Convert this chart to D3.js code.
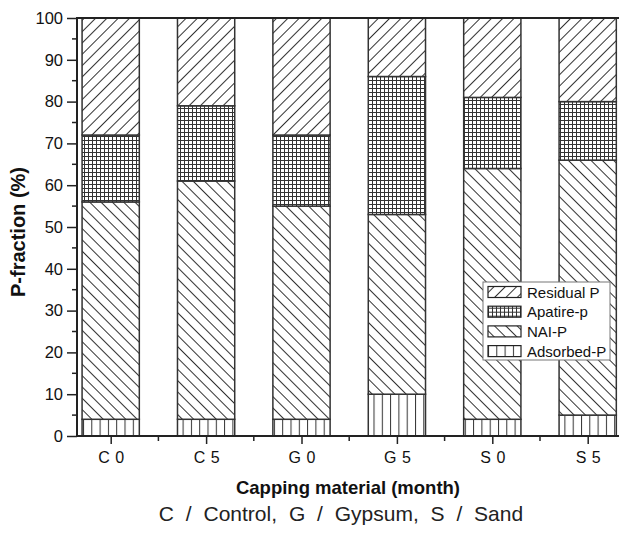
<!DOCTYPE html>
<html>
<head>
<meta charset="utf-8">
<script src="https://cdn.jsdelivr.net/npm/d3@7"></script>
<style>
  body { margin: 0; background: #fff; }
  svg text { font-family: "Liberation Sans", Arial, sans-serif; fill: #111; }
</style>
</head>
<body>
<div id="container"></div>
<script>
const categories = ["C 0", "C 5", "G 0", "G 5", "S 0", "S 5"];
const adsorbed = [4, 4, 4, 10, 4, 5];
const nai = [52, 57, 51, 43, 60, 61];
const apatite = [16, 18, 17, 33, 17, 14];
const residual = [28, 21, 28, 14, 19, 20];
const seriesNames = ["Adsorbed-P", "NAI-P", "Apatire-p", "Residual P"];
const yTicks = [0, 10, 20, 30, 40, 50, 60, 70, 80, 90, 100];

const width = 619, height = 538;
const plotLeft = 77, plotRight = 619, plotTop = 18, plotBottom = 436;

const svg = d3.select("#container")
  .append("svg")
  .attr("width", width)
  .attr("height", height);

// hatch patterns
const defs = svg.append("defs");
const hatch = (id, angle, gap) => {
  const p = defs.append("pattern")
    .attr("id", id)
    .attr("patternUnits", "userSpaceOnUse")
    .attr("width", gap).attr("height", gap)
    .attr("patternTransform", `rotate(${angle})`);
  p.append("rect").attr("width", gap).attr("height", gap).attr("fill", "#fff");
  p.append("line")
    .attr("x1", 0.5).attr("y1", 0).attr("x2", 0.5).attr("y2", gap)
    .attr("stroke", "#333").attr("stroke-width", 1);
};
hatch("p-adsorbed", 0, 8.3);
hatch("p-nai", -45, 8);
hatch("p-residual", 45, 8);

const grid = defs.append("pattern")
  .attr("id", "p-apatite")
  .attr("patternUnits", "userSpaceOnUse")
  .attr("width", 4).attr("height", 4);
grid.append("rect").attr("width", 4).attr("height", 4).attr("fill", "#fff");
grid.append("path")
  .attr("d", "M0.5,0V4M0,0.5H4")
  .attr("stroke", "#333").attr("stroke-width", 1);

const fills = ["url(#p-adsorbed)", "url(#p-nai)", "url(#p-apatite)", "url(#p-residual)"];

const rows = categories.map((c, i) => ({
  cat: c,
  "Adsorbed-P": adsorbed[i],
  "NAI-P": nai[i],
  "Apatire-p": apatite[i],
  "Residual P": residual[i]
}));
const stacked = d3.stack().keys(seriesNames)(rows);

const x = d3.scalePoint().domain(categories).range([110.7, 587.7]);
const barW = x.step() * 0.6;
const y = d3.scaleLinear().domain([0, 100]).range([plotBottom, plotTop]);

// bars
svg.append("g")
  .selectAll("g")
  .data(stacked)
  .enter()
  .append("g")
  .attr("fill", (d, i) => fills[i])
  .selectAll("rect")
  .data(d => d)
  .enter()
  .append("rect")
  .attr("x", d => x(d.data.cat) - barW / 2)
  .attr("y", d => y(d[1]))
  .attr("width", barW)
  .attr("height", d => y(d[0]) - y(d[1]))
  .attr("stroke", "#333")
  .attr("stroke-width", 1.5);

// y axis
const yAxis = d3.axisLeft(y).tickValues(yTicks).tickSize(10).tickPadding(4);
const gy = svg.append("g").attr("transform", `translate(${plotLeft},0)`).call(yAxis);
gy.select(".domain").remove();
gy.selectAll(".tick line").attr("stroke", "#222").attr("stroke-width", 1.5);
gy.selectAll(".tick text").style("font-size", "16.5px");
svg.append("g")
  .selectAll("line")
  .data(d3.range(5, 100, 10))
  .enter()
  .append("line")
  .attr("x1", plotLeft - 5).attr("x2", plotLeft)
  .attr("y1", d => y(d)).attr("y2", d => y(d))
  .attr("stroke", "#222").attr("stroke-width", 1.5);

// x axis
const xAxis = d3.axisBottom(x).tickSize(8).tickPadding(8);
const gx = svg.append("g").attr("transform", `translate(0,${plotBottom})`).call(xAxis);
gx.select(".domain").remove();
gx.selectAll(".tick line").attr("stroke", "#222").attr("stroke-width", 1.5);
gx.selectAll(".tick text").style("font-size", "16px").style("word-spacing", "1px");
const mids = categories.map(c => x(c) + x.step() / 2).filter(v => v < plotRight);
svg.append("g")
  .selectAll("line")
  .data(mids)
  .enter()
  .append("line")
  .attr("x1", d => d).attr("x2", d => d)
  .attr("y1", plotBottom).attr("y2", plotBottom + 5)
  .attr("stroke", "#222").attr("stroke-width", 1.5);

// frame lines
svg.append("line").attr("x1", plotLeft).attr("x2", plotLeft).attr("y1", plotTop).attr("y2", plotBottom)
  .attr("stroke", "#222").attr("stroke-width", 2);
svg.append("line").attr("x1", plotLeft - 1).attr("x2", plotRight).attr("y1", plotBottom).attr("y2", plotBottom)
  .attr("stroke", "#222").attr("stroke-width", 2);
svg.append("line").attr("x1", plotLeft - 1).attr("x2", plotRight).attr("y1", plotTop).attr("y2", plotTop)
  .attr("stroke", "#222").attr("stroke-width", 2);

// titles
svg.append("text")
  .attr("transform", `translate(25,${(plotTop + plotBottom) / 2 + 5}) rotate(-90)`)
  .attr("text-anchor", "middle")
  .style("font-size", "20px")
  .style("font-weight", "bold")
  .text("P-fraction (%)");

svg.append("text")
  .attr("x", 348).attr("y", 494)
  .attr("text-anchor", "middle")
  .style("font-size", "18.5px")
  .style("font-weight", "bold")
  .text("Capping material (month)");

svg.append("text")
  .attr("x", 341).attr("y", 521)
  .attr("text-anchor", "middle")
  .style("font-size", "21px")
  .style("fill", "#222")
  .style("word-spacing", "6px")
  .text("C / Control, G / Gypsum, S / Sand");

// legend
const legend = svg.append("g").attr("transform", "translate(483,282)");
legend.append("rect")
  .attr("width", 127).attr("height", 78)
  .attr("fill", "#fff").attr("stroke", "#777").attr("stroke-width", 1);
const legendOrder = [3, 2, 1, 0];
const li = legend.selectAll("g.item")
  .data(legendOrder)
  .enter()
  .append("g")
  .attr("class", "item")
  .attr("transform", (d, i) => `translate(5,${10 + i * 19.7})`);
li.append("rect")
  .attr("x", 0).attr("y", -5.5)
  .attr("width", 33).attr("height", 11)
  .attr("fill", d => fills[d])
  .attr("stroke", "#222").attr("stroke-width", 1.2);
li.append("text")
  .attr("x", 39).attr("y", 5.5)
  .style("font-size", "15px")
  .text(d => seriesNames[d]);
</script>
</body>
</html>
